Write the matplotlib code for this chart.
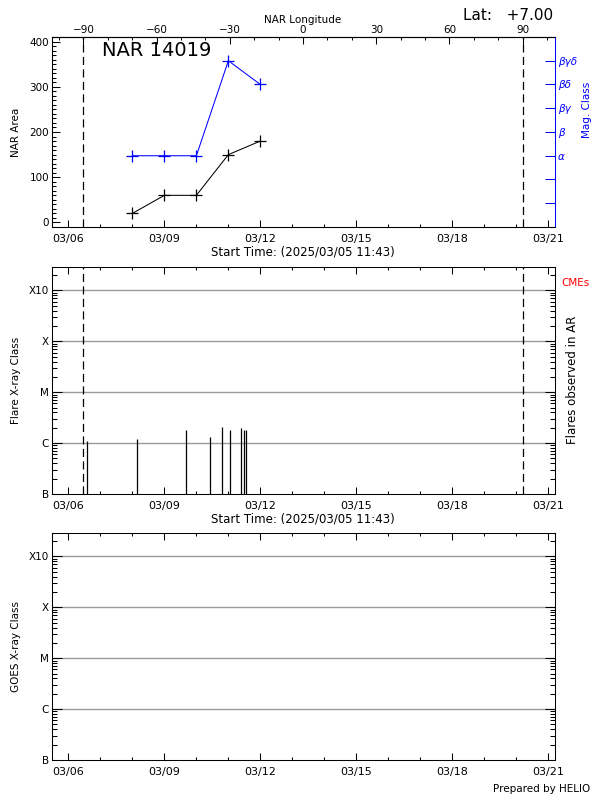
"""Resumo da regiao ativa NAR 14019 (layout do HELIO / IDL).

Painel 1: area da regiao e classe magnetica; painel 2: flares observados
na regiao; painel 3: classe de raios-X do GOES (vazio neste periodo).
"""

from datetime import datetime

import matplotlib

matplotlib.use("Agg")
import matplotlib.dates as mdates
import matplotlib.pyplot as plt
import numpy as np
from matplotlib.ticker import FixedLocator, LogLocator, MultipleLocator, NullFormatter

W, H = 600, 800

NAR = "14019"
LATITUDE = 7.0
START = datetime(2025, 3, 5, 11, 43)
END = datetime(2025, 3, 21, 5, 0)

# passagem pelo meridiano central e taxa de rotacao (graus/dia)
CM_PASSAGE = datetime(2025, 3, 13, 8, 0)
ROT_RATE = 13.11

nar_dates = [datetime(2025, 3, d) for d in (8, 9, 10, 11, 12)]
nar_area = [20, 60, 60, 150, 180]
mag_class = [3, 3, 3, 7, 6]
mag_ticks = [1, 2, 3, 4, 5, 6, 7]
mag_labels = ["", "", "α", "β", "βγ", "βδ", "βγδ"]

flare_times = [
    datetime(2025, 3, 6, 14, 15),
    datetime(2025, 3, 8, 3, 45),
    datetime(2025, 3, 9, 16, 30),
    datetime(2025, 3, 10, 10, 30),
    datetime(2025, 3, 10, 19, 30),
    datetime(2025, 3, 11, 1, 30),
    datetime(2025, 3, 11, 9, 45),
    datetime(2025, 3, 11, 11, 45),
    datetime(2025, 3, 11, 13, 15),
]
flare_flux = [1.1e-6, 1.2e-6, 1.8e-6, 1.3e-6, 2.1e-6, 1.8e-6, 2.0e-6, 1.8e-6, 1.8e-6]

class_labels = ["B", "C", "M", "X", "X10"]
class_flux = [1e-7, 1e-6, 1e-5, 1e-4, 1e-3]
FLUX_MAX = 10 ** -2.54

lon_major = [-90, -60, -30, 0, 30, 60, 90]
limb_lon = [-90, 90]

FS = 7.5


def to_lon(t):
    return (np.asarray(t) - mdates.date2num(CM_PASSAGE)) * ROT_RATE


def to_time(lon):
    return mdates.date2num(CM_PASSAGE) + np.asarray(lon) / ROT_RATE


def px_axes(fig, left, top, right, bottom):
    return fig.add_axes([left / W, 1 - bottom / H, (right - left) / W, (bottom - top) / H])


def fig_text(fig, x, y, s, **kw):
    return fig.text(x / W, 1 - y / H, s, **kw)


def eixo_tempo(ax, top=True):
    ax.set_xlim(START, END)
    ax.xaxis.set_major_locator(mdates.DayLocator(bymonthday=[6, 9, 12, 15, 18, 21]))
    ax.xaxis.set_minor_locator(mdates.DayLocator())
    ax.xaxis.set_major_formatter(mdates.DateFormatter("%m/%d"))
    ax.tick_params(axis="x", which="major", direction="in", length=5, width=0.75,
                   top=top, labelsize=FS + 0.5, pad=5)
    ax.tick_params(axis="x", which="minor", direction="in", length=2.5, width=0.75,
                   top=top)


def eixo_classe(fig, ax, ylabel, y_centro):
    ax.set_yscale("log")
    ax.set_ylim(class_flux[0], FLUX_MAX)
    ax.yaxis.set_major_locator(FixedLocator(class_flux))
    ax.set_yticklabels(class_labels)
    ax.yaxis.set_minor_locator(LogLocator(base=10, subs=np.arange(2, 10)))
    ax.yaxis.set_minor_formatter(NullFormatter())
    ax.tick_params(axis="y", which="major", direction="in", length=7, width=0.75,
                   right=True, labelsize=FS, pad=2)
    ax.tick_params(axis="y", which="minor", direction="in", length=3.5, width=0.75,
                   right=True)
    for f in class_flux[1:]:
        ax.axhline(f, color="#999999", lw=1.0, zorder=0)
    fig_text(fig, 16, y_centro, ylabel, fontsize=FS, rotation=90,
             ha="center", va="center")


def painel_nar(fig):
    ax = px_axes(fig, 52, 37, 555, 227)
    eixo_tempo(ax, top=False)
    ax.set_ylim(-10, 410)
    ax.yaxis.set_major_locator(MultipleLocator(100))
    ax.yaxis.set_minor_locator(MultipleLocator(10))
    ax.tick_params(axis="y", which="major", direction="in", length=6, width=0.75,
                   labelsize=FS, pad=2)
    ax.tick_params(axis="y", which="minor", direction="in", length=3, width=0.75)
    ax.spines["right"].set_visible(False)
    for s in ax.spines.values():
        s.set_linewidth(0.75)

    for lon in limb_lon:
        ax.axvline(to_time(lon), color="k", lw=0.9, ls=(0, (6.5, 3.5)))

    ax.plot(nar_dates, nar_area, color="k", lw=0.75, marker="+", ms=9, mew=0.9)
    fig_text(fig, 16, 132, "NAR Area", fontsize=FS, rotation=90,
             ha="center", va="center")

    axr = ax.twinx()
    axr.set_ylim(0, 8)
    axr.yaxis.set_major_locator(FixedLocator(mag_ticks))
    axr.set_yticklabels(mag_labels, style="italic")
    axr.tick_params(axis="y", direction="in", length=7, width=0.75, colors="blue",
                    labelsize=FS, pad=2)
    axr.spines["right"].set_color("blue")
    for s in axr.spines.values():
        s.set_linewidth(0.75)
    axr.plot(nar_dates, mag_class, color="blue", lw=0.75, marker="+", ms=9, mew=0.9)
    fig_text(fig, 587, 110, "Mag. Class", color="blue", fontsize=FS, rotation=90,
             ha="center", va="center")

    sec = ax.secondary_xaxis("top", functions=(to_lon, to_time))
    sec.xaxis.set_major_locator(FixedLocator(lon_major))
    sec.xaxis.set_minor_locator(MultipleLocator(10))
    sec.tick_params(which="major", direction="in", length=5, width=0.75,
                    labelsize=FS, pad=1.5)
    sec.tick_params(which="minor", direction="in", length=2.5, width=0.75)
    sec.set_xticklabels([f"{v:d}".replace("-", "\u2212") for v in lon_major])
    fig_text(fig, 303, 20, "NAR Longitude", fontsize=FS, ha="center", va="center")

    fig_text(fig, 102, 51, f"NAR {NAR}", fontsize=14, ha="left", va="center")
    fig_text(fig, 553, 16, f"Lat:   {LATITUDE:+.2f}", fontsize=11, ha="right",
             va="center")
    fig_text(fig, 303, 252, f"Start Time: ({START:%Y/%m/%d %H:%M})",
             fontsize=FS + 1, ha="center", va="center")


def painel_flares(fig):
    ax = px_axes(fig, 52, 267, 555, 494)
    eixo_tempo(ax)
    eixo_classe(fig, ax, "Flare X-ray Class", 380)
    for s in ax.spines.values():
        s.set_linewidth(0.75)
    for lon in limb_lon:
        ax.axvline(to_time(lon), color="k", lw=0.9, ls=(0, (6.5, 3.5)))
    ax.vlines(flare_times, class_flux[0], flare_flux, color="k", lw=0.9)

    fig_text(fig, 572, 380, "Flares observed in AR", fontsize=FS + 1, rotation=90,
             ha="center", va="center")
    fig_text(fig, 561, 283, "CMEs", color="red", fontsize=FS, ha="left", va="center")
    fig_text(fig, 303, 519, f"Start Time: ({START:%Y/%m/%d %H:%M})",
             fontsize=FS + 1, ha="center", va="center")


def painel_goes(fig):
    ax = px_axes(fig, 52, 533, 555, 760)
    eixo_tempo(ax)
    eixo_classe(fig, ax, "GOES X-ray Class", 646)
    for s in ax.spines.values():
        s.set_linewidth(0.75)
    fig_text(fig, 590, 789, "Prepared by HELIO", fontsize=FS, ha="right", va="center")


def main() -> None:
    plt.rcParams["font.family"] = ["DejaVu Sans"]
    fig = plt.figure(figsize=(W / 100, H / 100), dpi=100)
    painel_nar(fig)
    painel_flares(fig)
    painel_goes(fig)
    fig.savefig("out.png", dpi=100)
    plt.close(fig)


if __name__ == "__main__":
    main()
